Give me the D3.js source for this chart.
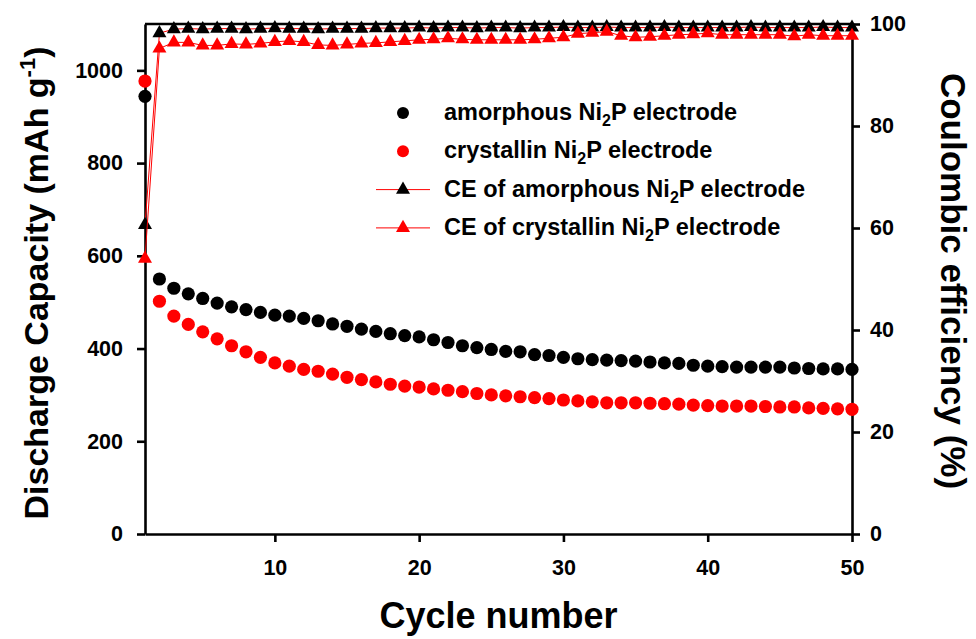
<!DOCTYPE html>
<html>
<head>
<meta charset="utf-8">
<script src="https://cdn.jsdelivr.net/npm/d3@7"></script>
<style>
  html, body { margin: 0; padding: 0; background: #fff; }
  svg text { font-family: "Liberation Sans", Arial, sans-serif; font-weight: bold; }
</style>
</head>
<body>
<svg id="chart" width="976" height="639"></svg>
<script>
// Cycle numbers 1..50
const cycles = d3.range(1, 51);

// Discharge capacity (mAh g^-1)
const capAmorphous = [944, 550, 530, 518, 508, 498, 490, 484, 478, 472,
  470, 465, 460, 453, 448, 442, 437, 432, 428, 425,
  419, 413, 406, 402, 398, 394, 393, 387, 385, 381,
  378, 376, 375, 374, 373, 371, 369, 368, 364, 362,
  361, 360, 360, 360, 360, 358, 357, 356, 356, 355];
const capCrystallin = [977, 502, 470, 452, 436, 421, 406, 393, 381, 369,
  362, 355, 351, 345, 338, 333, 328, 323, 319, 317,
  313, 310, 307, 303, 300, 298, 296, 294, 292, 289,
  287, 285, 283, 283, 283, 282, 281, 280, 278, 277,
  276, 276, 276, 275, 274, 274, 272, 271, 270, 269];

// Coulombic efficiency (%)
const ceAmorphous = [60.6, 98.2, 99.0, 99.1, 99.0, 99.1, 99.1, 99.0, 99.1, 99.2,
  99.1, 99.1, 99.0, 99.1, 99.1, 99.1, 99.2, 99.2, 99.2, 99.3,
  99.2, 99.3, 99.3, 99.2, 99.3, 99.3, 99.2, 99.3, 99.3, 99.4,
  99.3, 99.3, 99.4, 99.3, 99.3, 99.3, 99.4, 99.3, 99.3, 99.3,
  99.3, 99.3, 99.4, 99.3, 99.3, 99.3, 99.3, 99.4, 99.3, 99.3];
const ceCrystallin = [54.0, 95.2, 96.4, 96.4, 95.8, 95.8, 96.1, 96.0, 96.2, 96.5,
  96.7, 96.5, 95.9, 95.8, 96.0, 96.2, 96.3, 96.5, 96.7, 96.9,
  97.0, 97.2, 97.0, 96.9, 96.9, 96.9, 96.9, 97.0, 97.2, 97.4,
  98.1, 98.3, 98.5, 97.7, 97.4, 97.5, 97.7, 97.9, 98.0, 98.2,
  97.9, 97.9, 97.9, 97.9, 97.9, 97.6, 97.9, 97.7, 97.7, 97.7];

// Axis ticks
const xTicks = [10, 20, 30, 40, 50];
const yLeftTicks = [0, 200, 400, 600, 800, 1000];
const yRightTicks = [0, 20, 40, 60, 80, 100];

const svg = d3.select("#chart");
const plotL = 145, plotR = 852, plotT = 24, plotB = 534;

const x = d3.scaleLinear().domain([1, 50]).range([plotL, plotR]);
const yL = d3.scaleLinear().domain([0, 1100]).range([plotB, plotT]);
const yR = d3.scaleLinear().domain([0, 100]).range([plotB, plotT]);

const axisW = 2.6;
const fmt = d3.format("d");

// Frame top line
svg.append("line")
  .attr("x1", plotL).attr("x2", plotR).attr("y1", plotT).attr("y2", plotT)
  .attr("stroke", "#000").attr("stroke-width", axisW);

function styleAxis(g) {
  g.select(".domain").attr("stroke-width", axisW);
  g.selectAll(".tick line").attr("stroke-width", axisW);
  g.selectAll(".tick text").attr("font-size", 21.5).attr("fill", "#000")
    .style("font-family", "'Liberation Sans', Arial, sans-serif").style("font-weight", "bold");
}

svg.append("g").attr("transform", `translate(0,${plotB})`)
  .call(d3.axisBottom(x).tickValues(xTicks).tickFormat(fmt).tickSize(8).tickSizeOuter(0).tickPadding(18))
  .call(styleAxis);

svg.append("g").attr("transform", `translate(${plotL},0)`)
  .call(d3.axisLeft(yL).tickValues(yLeftTicks).tickFormat(fmt).tickSize(8).tickSizeOuter(0).tickPadding(14))
  .call(styleAxis);

svg.append("g").attr("transform", `translate(${plotR},0)`)
  .call(d3.axisRight(yR).tickValues(yRightTicks).tickFormat(fmt).tickSize(8).tickSizeOuter(0).tickPadding(10))
  .call(styleAxis);

// Axis titles
svg.append("text").attr("x", (plotL + plotR) / 2).attr("y", 628)
  .attr("text-anchor", "middle").attr("font-size", 36).text("Cycle number");

const lt = svg.append("text")
  .attr("transform", "translate(48,283) rotate(-90)")
  .attr("text-anchor", "middle").attr("font-size", 34);
lt.append("tspan").text("Discharge Capacity (mAh g");
lt.append("tspan").attr("font-size", 22).attr("dy", -13).text("-1");
lt.append("tspan").attr("dy", 13).text(")");

svg.append("text")
  .attr("transform", "translate(941,281) rotate(90)")
  .attr("text-anchor", "middle").attr("font-size", 35)
  .text("Coulombic efficiency (%)");

// Series definitions
const ceSeries = [
  { values: ceAmorphous, fill: "#000" },
  { values: ceCrystallin, fill: "#ff0000" }
];
const capSeries = [
  { values: capAmorphous, fill: "#000" },
  { values: capCrystallin, fill: "#ff0000" }
];

const tri = d3.symbol().type(d3.symbolTriangle).size(85);
const r = 6.6;

// Discharge capacity points
capSeries.forEach(s => {
  svg.append("g").selectAll("circle").data(cycles).join("circle")
    .attr("cx", c => x(c)).attr("cy", (c, i) => yL(s.values[i]))
    .attr("r", r).attr("fill", s.fill);
});

// Coulombic efficiency lines and triangles
ceSeries.forEach(s => {
  const line = d3.line().x(c => x(c)).y((c, i) => yR(s.values[i]));
  svg.append("path").datum(cycles).attr("d", line)
    .attr("fill", "none").attr("stroke", "#ff0000").attr("stroke-width", 1);
  svg.append("g").selectAll("path").data(cycles).join("path")
    .attr("d", tri)
    .attr("transform", (c, i) => `translate(${x(c)},${yR(s.values[i])})`)
    .attr("fill", s.fill);
});

// Legend
const legend = [
  { pre: "amorphous Ni", post: "P electrode", kind: "circle", fill: "#000" },
  { pre: "crystallin Ni", post: "P electrode", kind: "circle", fill: "#ff0000" },
  { pre: "CE of amorphous Ni", post: "P electrode", kind: "tri", fill: "#000" },
  { pre: "CE of crystallin Ni", post: "P electrode", kind: "tri", fill: "#ff0000" }
];
const lgX = 403, lgY0 = 113, lgDy = 38.3;
legend.forEach((d, i) => {
  const cy = lgY0 + i * lgDy;
  const g = svg.append("g");
  if (d.kind === "circle") {
    g.append("circle").attr("cx", lgX).attr("cy", cy).attr("r", 6).attr("fill", d.fill);
  } else {
    g.append("line").attr("x1", lgX - 27).attr("x2", lgX + 27).attr("y1", cy).attr("y2", cy)
      .attr("stroke", "#ff0000").attr("stroke-width", 1);
    g.append("path").attr("d", tri).attr("transform", `translate(${lgX},${cy})`).attr("fill", d.fill);
  }
  const t = g.append("text").attr("x", 444).attr("y", cy + 7).attr("font-size", 23.5);
  t.append("tspan").text(d.pre);
  t.append("tspan").attr("font-size", 16).attr("dy", 6).text("2");
  t.append("tspan").attr("dy", -6).text(d.post);
});
</script>
</body>
</html>
